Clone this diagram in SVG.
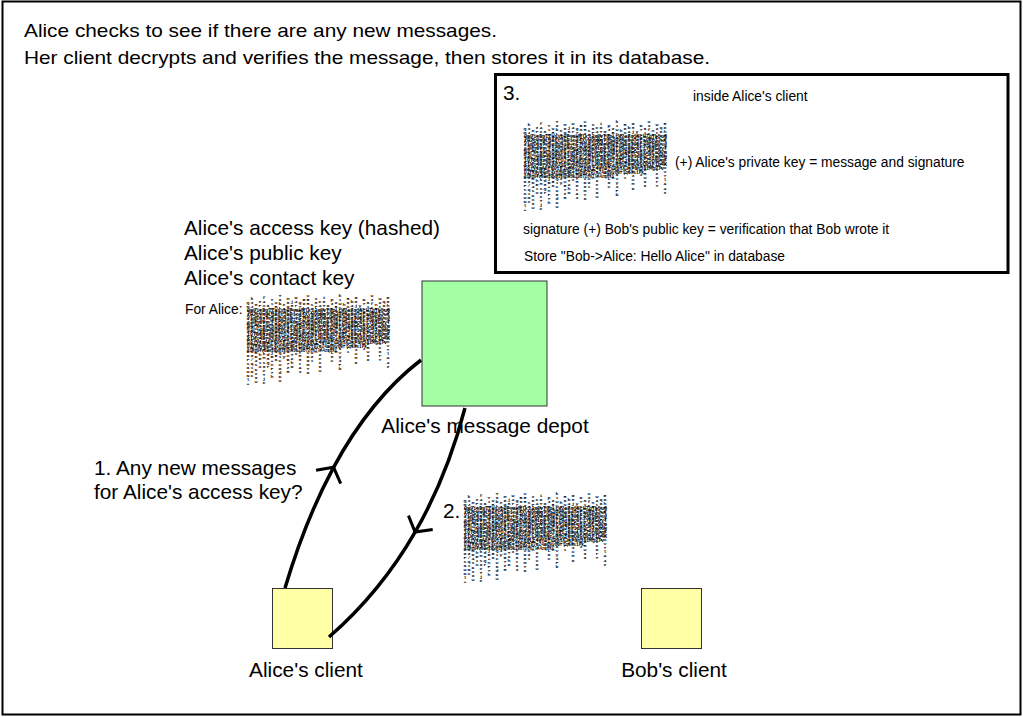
<svg xmlns="http://www.w3.org/2000/svg" xmlns:xlink="http://www.w3.org/1999/xlink" width="1023" height="717" viewBox="0 0 1023 717">
<style>
text{font-family:"Liberation Sans",Arial,sans-serif;fill:#000}
.big{font-size:20.8px}
.sm{font-size:13.8px}
.node{stroke:#333;stroke-width:1}
.green{fill:#a4ffa4}
.yellow{fill:#ffffa6}
.conn{fill:none;stroke:#000;stroke-width:3.5;marker-mid:url(#chev)}
.cv{font-family:"Liberation Mono",monospace;font-size:5px;font-weight:bold;writing-mode:vertical-rl;text-orientation:upright;fill:#000}
.ch{font-family:"Liberation Mono",monospace;font-size:5.5px;font-weight:bold;fill:#000}
.blob{opacity:0.97}
</style>
<defs>
<marker id="chev" viewBox="-14 -16 18 32" markerWidth="18" markerHeight="32" refX="0" refY="0" orient="auto" markerUnits="userSpaceOnUse">
<path d="M-11,-14 L0,0 L-11,14" fill="none" stroke="#000" stroke-width="3"/>
</marker>
<g id="cipher">
<text class="cv" transform="scale(1,0.7)">
<tspan x="2" y="10">Qm9ieDpIZWxsb0FsaWNl+</tspan>
<tspan x="6" y="4">k3Jx8vT0pLrW2aZ/q1Nc</tspan>
<tspan x="10" y="12">H7gYb5uQe0R+mD4sKx9w</tspan>
<tspan x="14" y="8">zP2cVn8LdA6tJhE1o</tspan>
<tspan x="18" y="2">f4XyW0bNq7Ug3RkMs9eTjC</tspan>
<tspan x="22" y="14">a/9KpZ2wL5vHd8Qr</tspan>
<tspan x="26" y="6">Y1mE6sTx0cGu4jB+nF7h</tspan>
<tspan x="30" y="10">oR3kD8eWqV2yN5a</tspan>
<tspan x="34" y="0">T9bLx4ZgP0sJ7mQ1cU6dKw</tspan>
<tspan x="38" y="12">e2Hn8Vr/F5tA3y</tspan>
<tspan x="42" y="4">M6qS0wD9kX1pG4uB7zR</tspan>
<tspan x="46" y="8">j8Nc3LfY5aE0vT2hO</tspan>
<tspan x="50" y="2">W4rK+i9ZbQ6sU1x</tspan>
<tspan x="54" y="10">g7PmJ2dC0nV5yH8tA3</tspan>
<tspan x="58" y="6">B0kFq6Xw9LeS2</tspan>
<tspan x="62" y="0">u5Rz1hN8cG3pT7vD0mYa</tspan>
<tspan x="66" y="12">s2Lj9Eb4WqK6oZ1</tspan>
<tspan x="70" y="4">x8Fa/3Mt0Pg5Vn</tspan>
<tspan x="74" y="8">C4yQ7kU1dH9rJ2eX6w</tspan>
<tspan x="78" y="2">i0Tb5Nz8mS3f</tspan>
<tspan x="82" y="14">O7vG2aK9hW4l</tspan>
<tspan x="86" y="6">p3Ed6YxR1jB8uL0c</tspan>
<tspan x="90" y="10">Z5nM9qF2tA7sH</tspan>
<tspan x="94" y="0">k1Wc4Dr8Xe0Jg6Vy3Pb</tspan>
<tspan x="98" y="12">h9Ls2Ua5Nz+</tspan>
<tspan x="102" y="4">R6oT0mC3wQ8iF1</tspan>
<tspan x="106" y="8">b4Kx7Hd2Ye9S</tspan>
<tspan x="110" y="2">G8jV1pA5rN0tE3uM6</tspan>
<tspan x="114" y="14">y2Zq9Lc4Wf</tspan>
<tspan x="118" y="6">D7sB0nX3kP6hJ</tspan>
<tspan x="122" y="10">a1Mg8Tv5Oe2Rw9I</tspan>
<tspan x="126" y="0">U3fK6yQ0dL4x</tspan>
<tspan x="130" y="12">n5Hc8Ej1Sb</tspan>
<tspan x="134" y="4">W2tP7aZ4mG9vC0rY</tspan>
<tspan x="138" y="8">q6Xs1Fk8Nd3</tspan>
<tspan x="142" y="2">E0hR5uJ9bT2oV7lA4z</tspan>
</text>
<text class="ch" x="1" y="18" textLength="143" lengthAdjust="spacingAndGlyphs">Qm9ieDpIZWxsb0FsaWNlk3Jx8vT0pLrW2aZq1NcH7gYb5uQ</text>
<text class="ch" x="1" y="22" textLength="143" lengthAdjust="spacingAndGlyphs">zP2cVn8LdA6tJhE1of4XyW0bNq7Ug3RkMs9eTjCa9KpZ2wL</text>
<text class="ch" x="1" y="26" textLength="143" lengthAdjust="spacingAndGlyphs">Y1mE6sTx0cGu4jB+nF7hoR3kD8eWqV2yN5aT9bLx4ZgP0sJ</text>
<text class="ch" x="1" y="30" textLength="143" lengthAdjust="spacingAndGlyphs">e2Hn8Vr/F5tA3yM6qS0wD9kX1pG4uB7zRj8Nc3LfY5aE0vT</text>
<text class="ch" x="1" y="34" textLength="143" lengthAdjust="spacingAndGlyphs">W4rK+i9ZbQ6sU1xg7PmJ2dC0nV5yH8tA3B0kFq6Xw9LeS2u</text>
<text class="ch" x="1" y="38" textLength="143" lengthAdjust="spacingAndGlyphs">s2Lj9Eb4WqK6oZ1x8Fa/3Mt0Pg5VnC4yQ7kU1dH9rJ2eX6w</text>
<text class="ch" x="1" y="42" textLength="143" lengthAdjust="spacingAndGlyphs">i0Tb5Nz8mS3fO7vG2aK9hW4lp3Ed6YxR1jB8uL0cZ5nM9qF</text>
<text class="ch" x="1" y="46" textLength="143" lengthAdjust="spacingAndGlyphs">k1Wc4Dr8Xe0Jg6Vy3Pbh9Ls2Ua5Nz+R6oT0mC3wQ8iF1b4K</text>
<text class="ch" x="1" y="50" textLength="140" lengthAdjust="spacingAndGlyphs">G8jV1pA5rN0tE3uM6y2Zq9Lc4WfD7sB0nX3kP6hJa1Mg8Tv</text>
<text class="ch" x="1" y="54" textLength="120" lengthAdjust="spacingAndGlyphs">U3fK6yQ0dL4xn5Hc8Ej1SbW2tP7aZ4mG9vC0rYq6Xs1Fk</text>
<text class="ch" x="1" y="58" textLength="90" lengthAdjust="spacingAndGlyphs">a1Mg8Tv5Oe2Rw9IE0hR5uJ9bT2oV7lA4zq6Xs</text>
</g>
</defs>
<rect x="2.5" y="1.5" width="1018" height="713" fill="#fff" stroke="#000" stroke-width="2"/>
<g id="title">
<text x="24" y="37" font-size="19" textLength="473" lengthAdjust="spacingAndGlyphs">Alice checks to see if there are any new messages.</text>
<text x="24" y="64" font-size="19" textLength="686" lengthAdjust="spacingAndGlyphs">Her client decrypts and verifies the message, then stores it in its database.</text>
</g>
<g id="step3">
<rect x="495.5" y="74.5" width="512.5" height="198" fill="#fff" stroke="#000" stroke-width="3"/>
<text class="big" x="503" y="100">3.</text>
<text class="sm" x="693" y="101">inside Alice's client</text>
<use class="blob" xlink:href="#cipher" href="#cipher" x="523" y="120"/>
<text class="sm" x="675" y="167">(+) Alice's private key = message and signature</text>
<text class="sm" x="523" y="234">signature (+) Bob's public key = verification that Bob wrote it</text>
<text class="sm" x="524" y="261">Store "Bob-&gt;Alice: Hello Alice" in database</text>
</g>
<g id="keys">
<text class="big" x="184" y="235">Alice's access key (hashed)</text>
<text class="big" x="184" y="260">Alice's public key</text>
<text class="big" x="184" y="285">Alice's contact key</text>
<text class="sm" x="185" y="314">For Alice:</text>
<use class="blob" xlink:href="#cipher" href="#cipher" x="246" y="294"/>
</g>
<g id="depot">
<rect class="node green" x="422" y="281" width="125" height="125"/>
<text class="big" x="485" y="433" text-anchor="middle">Alice's message depot</text>
</g>
<g id="alice-client">
<rect class="node yellow" x="272.5" y="588.5" width="60" height="60"/>
<text class="big" x="306" y="677" text-anchor="middle">Alice's client</text>
</g>
<g id="bob-client">
<rect class="node yellow" x="641.5" y="588.5" width="60" height="60"/>
<text class="big" x="674" y="677" text-anchor="middle">Bob's client</text>
</g>
<g id="connectors">
<path class="conn" d="M285,588 Q305.6,519.1 333.6,467.3 Q370.8,398.6 421,360"/>
<path class="conn" d="M465,408 Q447.1,476.6 415.1,532.1 Q380.4,592.3 329,637"/>
</g>
<g id="labels">
<text class="big" x="94" y="475">1. Any new messages</text>
<text class="big" x="94" y="499">for Alice's access key?</text>
<text class="big" x="443" y="518">2.</text>
<use class="blob" xlink:href="#cipher" href="#cipher" x="463" y="492"/>
</g>
</svg>
